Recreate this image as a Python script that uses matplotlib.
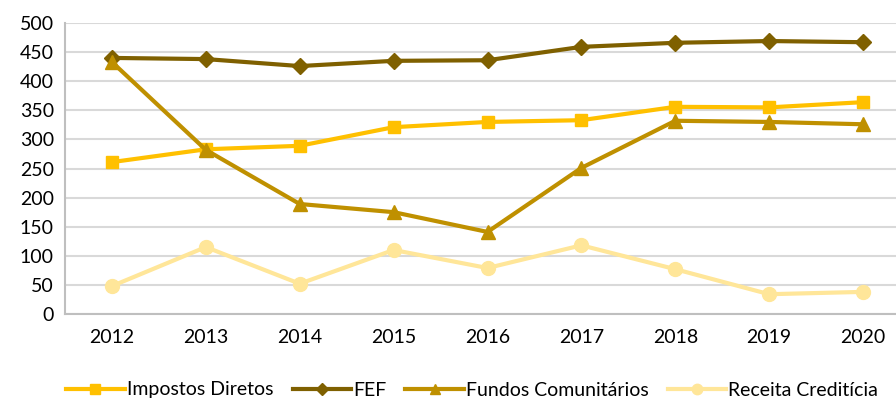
import matplotlib
matplotlib.use("Agg")
import matplotlib.pyplot as plt

years = ["2012", "2013", "2014", "2015", "2016", "2017", "2018", "2019", "2020"]
impostos_diretos = [261, 283, 289, 321, 330, 333, 356, 355, 364]
fef = [440, 438, 426, 435, 436, 459, 466, 469, 467]
fundos_comunitarios = [433, 282, 189, 175, 141, 251, 332, 330, 326]
receita_crediticia = [48, 115, 52, 110, 79, 118, 77, 34, 38]

plt.rcParams["font.family"] = ["Lato", "DejaVu Sans"]

fig = plt.figure(figsize=(8.96, 4.01), dpi=100)
W, H = 896, 401
left, right, top, bottom = 65, 910, 23, 314
ax = fig.add_axes([left / W, 1 - bottom / H, (right - left) / W, (bottom - top) / H])

x = list(range(len(years)))
series = [
    ("Impostos Diretos", impostos_diretos, "#FFC000", "s", 9),
    ("FEF", fef, "#7F6000", "D", 8),
    ("Fundos Comunitários", fundos_comunitarios, "#BF9000", "^", 10),
    ("Receita Creditícia", receita_crediticia, "#FFE699", "o", 10),
]
for name, vals, col, mk, ms in series:
    ax.plot(x, vals, color=col, lw=3, marker=mk, markersize=ms, label=name,
            markeredgecolor=col, markerfacecolor=col)

ax.set_xlim(-0.5, len(years) - 0.5)
ax.set_ylim(0, 500)
ax.set_yticks(range(0, 501, 50))
ax.set_xticks(x)
ax.set_xticklabels(years)
ax.tick_params(axis="both", length=0, labelsize=14, colors="#000000")
ax.tick_params(axis="x", pad=11)
ax.tick_params(axis="y", pad=8)
ax.grid(axis="y", color="#D9D9D9", lw=1.5)
ax.set_axisbelow(True)
for s in ["top", "right"]:
    ax.spines[s].set_visible(False)
for s in ["left", "bottom"]:
    ax.spines[s].set_color("#BFBFBF")
    ax.spines[s].set_linewidth(1.5)

fig.legend(loc="center", bbox_to_anchor=(0.527, 1 - 390 / H), ncol=4, frameon=False,
           fontsize=14, handlelength=3.0, columnspacing=1.0, handletextpad=0.1,
           markerscale=0.75)

fig.savefig("out.png", dpi=100)
